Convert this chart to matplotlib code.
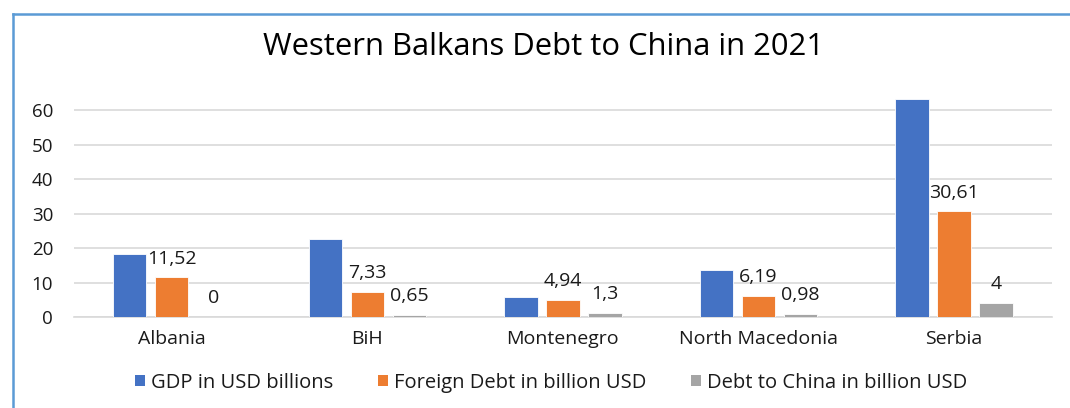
import matplotlib
matplotlib.use('Agg')
import matplotlib.pyplot as plt
from matplotlib.lines import Line2D
from matplotlib.patches import Patch
import numpy as np

plt.rcParams['font.family'] = ['Open Sans', 'DejaVu Sans']

countries = ['Albania', 'BiH', 'Montenegro', 'North Macedonia', 'Serbia']
gdp = [18.3, 22.6, 5.8, 13.7, 63.1]
foreign_debt = [11.52, 7.33, 4.94, 6.19, 30.61]
china_debt = [0, 0.65, 1.3, 0.98, 4]
series_names = ['GDP in USD billions', 'Foreign Debt in billion USD',
                'Debt to China in billion USD']
colors = ['#4472C4', '#ED7D31', '#A5A5A5']
y_ticks = [0, 10, 20, 30, 40, 50, 60]

TXT = '#1a1a1a'


def fmt(v):
    # comma as decimal separator, like the source
    s = ('%g' % v)
    return s.replace('.', ',')


fig = plt.figure(figsize=(10.7, 4.08), dpi=100)
ax = fig.add_axes([0.0692, 0.223, 0.9138, 0.558])

x = np.arange(len(countries))
width = 0.17
step = 0.215
all_series = [gdp, foreign_debt, china_debt]
for i, (vals, col) in enumerate(zip(all_series, colors)):
    bars = ax.bar(x + (i - 1) * step, vals, width, color=col,
                  edgecolor='white', linewidth=0.6, zorder=3)
    if i > 0:
        for b, v in zip(bars, vals):
            ax.annotate(fmt(v), (b.get_x() + b.get_width() / 2, v),
                        xytext=(0, 7), textcoords='offset points',
                        ha='center', va='bottom', fontsize=14,
                        color=TXT)

ax.set_xlim(-0.5, len(countries) - 0.5)
ax.set_ylim(0, 66)
ax.set_yticks(y_ticks)
ax.set_yticklabels([str(t) for t in y_ticks], fontsize=13.5, color=TXT)
ax.set_xticks(x)
ax.set_xticklabels(countries, fontsize=14, color=TXT)
ax.tick_params(axis='both', length=0)
ax.tick_params(axis='x', pad=9)
ax.tick_params(axis='y', pad=15)
for s in ['top', 'right', 'left']:
    ax.spines[s].set_visible(False)
ax.spines['bottom'].set_color('#D9D9D9')
ax.spines['bottom'].set_linewidth(1.2)
ax.grid(axis='y', color='#D9D9D9', linewidth=1.2, zorder=0)
ax.set_axisbelow(True)

fig.text(0.508, 0.885, 'Western Balkans Debt to China in 2021',
         ha='center', va='center', fontsize=22.3, color='#000000')

handles = [Patch(facecolor=c, edgecolor='none') for c in colors]
fig.legend(handles, series_names, loc='center', bbox_to_anchor=(0.515, 0.062),
           ncol=3, frameon=False, fontsize=14.5, handlelength=0.5,
           handleheight=0.5, handletextpad=0.3, columnspacing=2.2,
           labelcolor=TXT)

# chart frame (top and left edges visible in the source)
fig.add_artist(Line2D([0.0122, 1.0], [0.966, 0.966], color='#5B9BD5',
                      linewidth=1.8, transform=fig.transFigure))
fig.add_artist(Line2D([0.0122, 0.0122], [0.0, 0.966], color='#5B9BD5',
                      linewidth=1.8, transform=fig.transFigure))

fig.savefig('out.png', dpi=100, facecolor='white')
